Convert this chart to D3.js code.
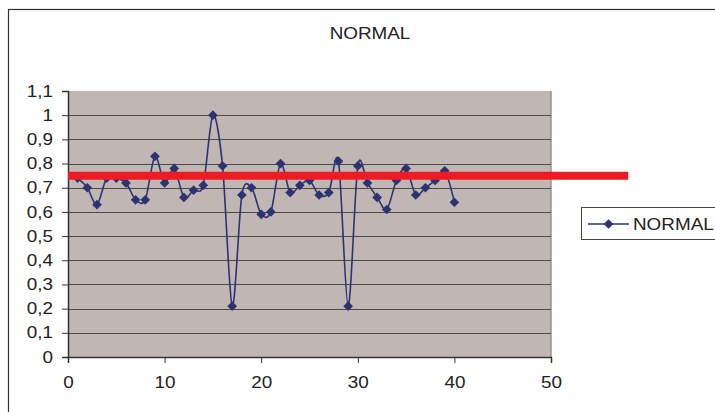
<!DOCTYPE html>
<html>
<head>
<meta charset="utf-8">
<script src="https://cdn.jsdelivr.net/npm/d3@7"></script>
<style>
  body { margin: 0; background: #fff; }
  text { font-family: "Liberation Sans", Arial, sans-serif; fill: #222; }
</style>
</head>
<body>
<script>
// series values
let xs = d3.range(1, 41);
let normal = [0.74, 0.70, 0.63, 0.74, 0.74, 0.72, 0.65, 0.65, 0.83, 0.72,
  0.78, 0.66, 0.69, 0.71, 1.00, 0.79, 0.21, 0.67, 0.70, 0.59,
  0.60, 0.80, 0.68, 0.71, 0.73, 0.67, 0.68, 0.81, 0.21, 0.79,
  0.72, 0.66, 0.61, 0.73, 0.78, 0.67, 0.70, 0.73, 0.77, 0.64];
let yTicks = [0, 0.1, 0.2, 0.3, 0.4, 0.5, 0.6, 0.7, 0.8, 0.9, 1, 1.1];
let xTicks = [0, 10, 20, 30, 40, 50];
let refLevel = 0.75;
let refSpan = [0, 58];
let title = "NORMAL";
let seriesName = "NORMAL";

let W = 715, H = 412;
let plot = { left: 68, top: 91, right: 551, bottom: 357 };

let x = d3.scaleLinear().domain([0, 50]).range([plot.left, plot.right]);
let y = d3.scaleLinear().domain([0, 1.1]).range([plot.bottom, plot.top]);

let svg = d3.select("body").append("svg")
  .attr("width", W).attr("height", H);

// outer chart frame
svg.append("rect")
  .attr("x", 8.5).attr("y", 9.5)
  .attr("width", W + 20).attr("height", H + 20)
  .attr("fill", "#fff").attr("stroke", "#333").attr("stroke-width", 1.2);

// plot background
svg.append("rect")
  .attr("x", plot.left).attr("y", plot.top)
  .attr("width", plot.right - plot.left).attr("height", plot.bottom - plot.top)
  .attr("fill", "#C0B7B4");
svg.append("line")
  .attr("x1", plot.right).attr("x2", plot.right)
  .attr("y1", plot.top).attr("y2", plot.bottom)
  .attr("stroke", "#9a9290").attr("stroke-width", 1.5);

// gridlines
svg.append("g").selectAll("line")
  .data(yTicks.filter(d => d > 0 && d < 1.05))
  .enter().append("line")
  .attr("x1", plot.left).attr("x2", plot.right)
  .attr("y1", d => Math.round(y(d)) + 0.5).attr("y2", d => Math.round(y(d)) + 0.5)
  .attr("stroke", "#4a4a4a").attr("stroke-width", 1);

// y axis
let yAxis = svg.append("g")
  .attr("transform", `translate(${plot.left},0)`)
  .call(d3.axisLeft(y).tickValues(yTicks).tickSize(6).tickPadding(9)
    .tickFormat(d => String(d).replace(".", ",")));

// x axis
let xAxis = svg.append("g")
  .attr("transform", `translate(0,${plot.bottom})`)
  .call(d3.axisBottom(x).tickValues(xTicks).tickSize(6).tickPadding(9));

[yAxis, xAxis].forEach(ax => {
  ax.select(".domain").attr("stroke", "#333").attr("stroke-width", 1.5);
  ax.selectAll(".tick line").attr("stroke", "#333");
  ax.selectAll(".tick text")
    .attr("font-size", "16px")
    .attr("font-family", "Liberation Sans, Arial, sans-serif")
    .attr("fill", "#222")
    .attr("transform", "scale(1.18,1)");
});
// text is stretched sideways like the original, keep right edge in place
yAxis.selectAll(".tick text").attr("x", -15 / 1.18);
xAxis.selectAll(".tick text").attr("y", 13).attr("dy", "1.1em");

// series line
let line = d3.line()
  .x((d, i) => x(xs[i]))
  .y(d => y(d))
  .curve(d3.curveCardinal.tension(0.1));

svg.append("path")
  .datum(normal)
  .attr("d", line)
  .attr("fill", "none")
  .attr("stroke", "#2E3270")
  .attr("stroke-width", 1.6);

let diamond = d3.symbol().type(d3.symbolDiamond2).size(60);
svg.append("g").selectAll("path")
  .data(normal)
  .enter().append("path")
  .attr("d", diamond)
  .attr("transform", (d, i) => `translate(${x(xs[i])},${y(d)})`)
  .attr("fill", "#2E3270");

// red reference bar
svg.append("line")
  .attr("x1", x(refSpan[0])).attr("x2", x(refSpan[1]))
  .attr("y1", y(refLevel)).attr("y2", y(refLevel))
  .attr("stroke", "#ED1C24").attr("stroke-width", 8);

// title
svg.append("text")
  .attr("transform", `translate(370,39) scale(1.18,1)`)
  .attr("text-anchor", "middle")
  .attr("font-size", "16px")
  .text(title);

// legend
let lg = svg.append("g").attr("transform", "translate(581,207)");
lg.append("rect")
  .attr("x", 0.5).attr("y", 0.5).attr("width", 150).attr("height", 32)
  .attr("fill", "#fff").attr("stroke", "#444");
lg.append("line")
  .attr("x1", 7).attr("x2", 48).attr("y1", 17).attr("y2", 17)
  .attr("stroke", "#2E3270").attr("stroke-width", 1.6);
lg.append("path")
  .attr("d", diamond)
  .attr("transform", "translate(27.5,17)")
  .attr("fill", "#2E3270");
lg.append("text")
  .attr("transform", "translate(52,23) scale(1.18,1)")
  .attr("font-size", "16px")
  .text(seriesName);
</script>
</body>
</html>
